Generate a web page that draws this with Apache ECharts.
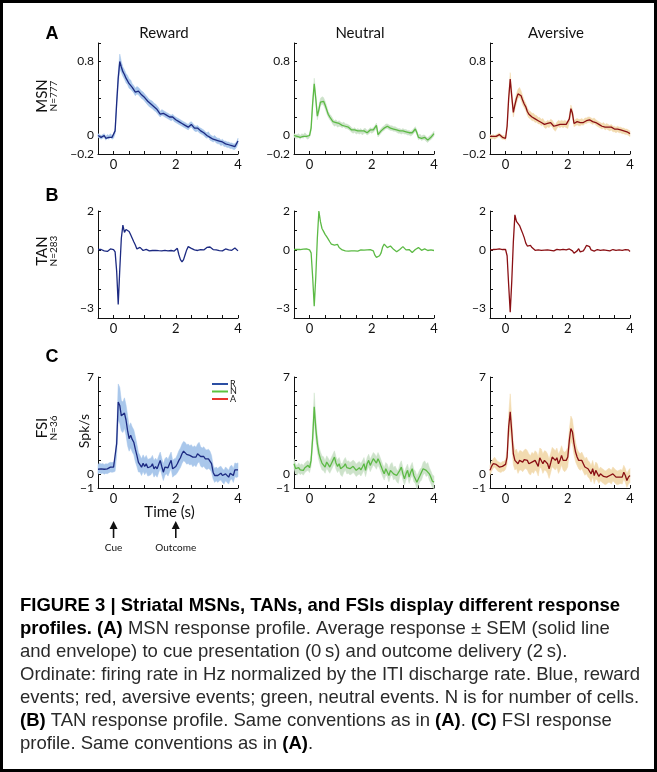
<!DOCTYPE html>
<html>
<head>
<meta charset="utf-8">
<script src="https://cdn.jsdelivr.net/npm/echarts@6/dist/echarts.min.js"></script>
<style>
html, body { margin: 0; padding: 0; background: #fff; }
#fig { width: 657px; height: 772px; }
</style>
</head>
<body>
<div id="fig"></div>
<script>
// time base (s), one sample every 50 ms
var time = [
  -0.5,-0.45,-0.4,-0.35,-0.3,-0.25,-0.2,-0.15,-0.1,-0.05,
  0,0.05,0.1,0.15,0.2,0.25,0.3,0.35,0.4,0.45,
  0.5,0.55,0.6,0.65,0.7,0.75,0.8,0.85,0.9,0.95,
  1,1.05,1.1,1.15,1.2,1.25,1.3,1.35,1.4,1.45,
  1.5,1.55,1.6,1.65,1.7,1.75,1.8,1.85,1.9,1.95,
  2,2.05,2.1,2.15,2.2,2.25,2.3,2.35,2.4,2.45,
  2.5,2.55,2.6,2.65,2.7,2.75,2.8,2.85,2.9,2.95,
  3,3.05,3.1,3.15,3.2,3.25,3.3,3.35,3.4,3.45,
  3.5,3.55,3.6,3.65,3.7,3.75,3.8,3.85,3.9,3.95,
  4
];

// MSN
var msnReward = [
  0.00,-0.01,-0.02,-0.01,0.00,-0.03,-0.01,-0.02,0.00,-0.02,
  -0.01,0.05,0.35,0.62,0.80,0.74,0.69,0.66,0.62,0.60,
  0.56,0.55,0.52,0.50,0.47,0.49,0.48,0.46,0.44,0.43,
  0.41,0.39,0.37,0.35,0.34,0.33,0.31,0.30,0.28,0.26,
  0.23,0.25,0.24,0.23,0.22,0.21,0.20,0.19,0.20,0.18,
  0.17,0.16,0.15,0.14,0.13,0.12,0.11,0.10,0.09,0.11,
  0.12,0.10,0.08,0.07,0.08,0.06,0.05,0.04,0.03,0.01,
  0.00,0.01,-0.02,-0.03,-0.04,-0.03,-0.05,-0.06,-0.06,-0.08,
  -0.07,-0.09,-0.09,-0.10,-0.10,-0.11,-0.11,-0.12,-0.12,-0.10,
  -0.06
];
var msnRewardSem = [
  0.02,0.02,0.02,0.02,0.02,0.02,0.02,0.02,0.02,0.02,
  0.02,0.03,0.05,0.07,0.08,0.06,0.05,0.05,0.05,0.05,
  0.05,0.05,0.04,0.04,0.04,0.04,0.04,0.04,0.04,0.04,
  0.04,0.04,0.04,0.04,0.04,0.04,0.04,0.04,0.04,0.04,
  0.03,0.03,0.03,0.03,0.03,0.03,0.03,0.03,0.03,0.03,
  0.03,0.03,0.03,0.03,0.03,0.03,0.03,0.03,0.03,0.03,
  0.03,0.03,0.03,0.03,0.03,0.03,0.03,0.03,0.03,0.03,
  0.03,0.03,0.03,0.03,0.03,0.03,0.03,0.03,0.03,0.03,
  0.03,0.03,0.03,0.03,0.03,0.03,0.03,0.03,0.03,0.03,
  0.03
];
var msnNeutral = [
  0.00,-0.01,-0.01,0.00,-0.02,0.00,-0.01,0.01,-0.01,-0.02,
  0.00,0.08,0.35,0.56,0.40,0.21,0.28,0.36,0.38,0.37,
  0.33,0.28,0.23,0.20,0.18,0.15,0.13,0.14,0.12,0.13,
  0.12,0.11,0.12,0.10,0.10,0.09,0.08,0.06,0.05,0.06,
  0.04,0.05,0.04,0.05,0.03,0.05,0.05,0.03,0.04,0.06,
  0.05,0.06,0.08,0.11,0.01,0.03,0.05,0.07,0.08,0.10,
  0.10,0.09,0.08,0.08,0.07,0.07,0.06,0.05,0.05,0.04,
  0.05,0.04,0.04,0.03,0.03,0.02,0.03,0.05,0.07,0.03,
  -0.02,-0.01,-0.03,-0.02,-0.02,-0.04,-0.05,-0.03,-0.02,0.00,
  0.02
];
var msnNeutralSem = [
  0.02,0.02,0.02,0.02,0.02,0.02,0.02,0.02,0.02,0.02,
  0.02,0.03,0.05,0.06,0.05,0.04,0.04,0.04,0.04,0.04,
  0.04,0.04,0.03,0.03,0.03,0.03,0.03,0.03,0.03,0.03,
  0.025,0.025,0.025,0.025,0.025,0.025,0.025,0.025,0.025,0.025,
  0.025,0.025,0.025,0.025,0.025,0.025,0.025,0.025,0.025,0.025,
  0.025,0.025,0.025,0.025,0.025,0.025,0.025,0.025,0.025,0.025,
  0.025,0.025,0.025,0.025,0.025,0.025,0.025,0.025,0.025,0.025,
  0.025,0.025,0.025,0.025,0.025,0.025,0.025,0.025,0.025,0.025,
  0.025,0.025,0.025,0.025,0.025,0.025,0.025,0.025,0.025,0.025,
  0.025
];
var msnAversive = [
  -0.01,-0.02,-0.01,-0.02,-0.01,0.00,0.01,-0.01,-0.02,-0.02,
  -0.03,0.10,0.40,0.61,0.42,0.25,0.33,0.40,0.45,0.47,
  0.43,0.38,0.34,0.31,0.26,0.23,0.22,0.20,0.20,0.18,
  0.18,0.16,0.16,0.14,0.15,0.12,0.11,0.13,0.12,0.14,
  0.13,0.10,0.08,0.11,0.13,0.12,0.13,0.12,0.13,0.12,
  0.11,0.18,0.29,0.24,0.13,0.14,0.15,0.14,0.14,0.15,
  0.14,0.16,0.16,0.17,0.17,0.16,0.15,0.16,0.14,0.13,
  0.12,0.11,0.10,0.11,0.09,0.10,0.09,0.08,0.09,0.07,
  0.07,0.06,0.07,0.06,0.06,0.05,0.05,0.04,0.04,0.03,
  0.02
];
var msnAversiveSem = [
  0.02,0.02,0.02,0.02,0.02,0.02,0.02,0.02,0.02,0.02,
  0.02,0.03,0.05,0.07,0.06,0.05,0.05,0.05,0.05,0.05,
  0.05,0.05,0.04,0.04,0.04,0.04,0.04,0.04,0.04,0.04,
  0.035,0.035,0.035,0.035,0.035,0.035,0.035,0.035,0.035,0.035,
  0.035,0.035,0.035,0.035,0.035,0.035,0.035,0.035,0.035,0.035,
  0.035,0.04,0.04,0.04,0.035,0.035,0.035,0.035,0.035,0.035,
  0.03,0.03,0.03,0.03,0.03,0.03,0.03,0.03,0.03,0.03,
  0.03,0.03,0.03,0.03,0.03,0.03,0.03,0.03,0.03,0.03,
  0.03,0.03,0.03,0.03,0.03,0.03,0.03,0.03,0.03,0.03,
  0.03
];

// TAN
var tanReward = [
  0.02,-0.03,0.02,-0.02,-0.05,0.03,-0.08,-0.02,0.05,-0.05,
  0.02,-0.10,-1.10,-2.80,-1.00,0.60,1.27,0.90,1.05,1.10,
  0.95,0.78,0.60,0.42,0.25,0.05,0.02,0.13,0.05,-0.03,
  0.00,0.03,-0.02,-0.05,0.00,-0.03,0.04,-0.02,0.03,-0.04,
  0.00,-0.05,0.02,-0.02,0.00,-0.05,0.01,-0.03,-0.02,-0.06,
  -0.03,0.08,-0.25,-0.50,-0.62,-0.50,-0.25,0.00,0.17,0.12,
  0.08,0.02,0.00,0.05,-0.03,0.00,0.02,-0.04,0.00,0.06,
  0.13,0.17,0.15,0.05,0.02,-0.03,0.00,0.03,-0.04,-0.02,
  -0.05,-0.01,0.05,-0.03,0.00,-0.05,-0.02,0.06,0.10,0.00,
  -0.05
];
var tanNeutral = [
  0.02,-0.02,0.03,-0.03,0.02,-0.04,0.04,-0.02,0.05,-0.03,
  0.00,-0.15,-1.40,-2.90,-1.40,0.60,2.00,1.45,1.10,0.95,
  0.80,0.68,0.55,0.42,0.30,0.25,0.25,0.28,0.28,0.12,
  0.03,0.00,-0.03,-0.05,-0.03,-0.06,-0.02,-0.05,-0.02,-0.05,
  -0.04,-0.06,-0.02,0.00,-0.03,-0.01,0.02,0.00,0.03,0.01,
  0.05,-0.05,-0.27,-0.38,-0.40,-0.30,-0.15,0.15,0.30,0.20,
  0.12,0.15,0.20,0.12,0.03,-0.05,-0.10,-0.05,0.02,0.10,
  0.17,0.10,0.00,-0.03,0.02,-0.05,-0.13,-0.05,0.02,0.05,
  0.12,0.05,-0.02,0.03,0.05,-0.02,-0.03,0.02,0.00,-0.03,
  -0.03
];
var tanAversive = [
  0.00,-0.03,0.02,-0.04,0.03,-0.03,0.05,-0.02,0.02,0.03,
  0.02,-0.30,-1.80,-3.20,-1.60,0.40,1.80,1.47,1.45,1.25,
  1.05,0.85,0.63,0.35,0.20,0.22,0.23,0.12,0.03,-0.02,
  -0.03,0.00,-0.04,-0.02,-0.04,-0.01,-0.03,0.00,-0.04,-0.02,
  -0.03,-0.05,-0.02,0.03,0.06,0.00,-0.03,0.03,0.06,0.00,
  -0.03,0.05,0.10,-0.05,-0.17,-0.10,-0.05,0.06,-0.10,-0.05,
  -0.05,0.08,0.23,0.28,0.17,0.00,-0.10,-0.06,-0.05,0.02,
  0.05,-0.02,-0.05,0.00,0.03,-0.02,-0.02,-0.05,-0.04,0.02,
  0.03,-0.02,-0.05,0.00,-0.01,-0.02,-0.02,0.02,0.04,0.00,
  -0.08
];

// FSI (spk/s)
var fsiReward = [
  0.35,0.45,0.38,0.42,0.35,0.40,0.38,0.45,0.50,0.48,
  0.50,0.60,2.20,5.20,4.95,4.20,4.10,4.40,3.90,3.15,
  2.55,2.80,2.50,2.30,1.80,1.35,0.85,0.75,0.50,0.79,
  0.55,0.75,0.46,0.50,0.55,0.75,0.38,0.55,0.38,0.70,
  0.99,0.55,0.14,0.50,0.63,0.46,0.75,0.99,0.38,0.50,
  0.55,0.75,0.99,1.18,1.47,1.66,1.59,1.42,1.47,1.35,
  1.42,1.23,1.35,1.23,1.47,1.59,1.27,1.18,1.27,1.10,
  1.03,1.10,0.99,0.75,0.14,-0.10,0.02,-0.10,0.02,0.07,
  -0.10,-0.22,0.02,-0.10,-0.22,0.07,0.14,-0.10,0.31,0.26,
  0.31
];
var fsiRewardSem = [
  0.35,0.35,0.35,0.35,0.35,0.35,0.35,0.35,0.35,0.35,
  0.35,0.4,0.8,1.3,1.3,1.1,1.1,1.1,1.1,1.1,
  0.9,0.9,0.9,0.9,0.9,0.8,0.7,0.6,0.6,0.6,
  0.6,0.6,0.6,0.6,0.6,0.6,0.6,0.6,0.6,0.6,
  0.6,0.6,0.6,0.6,0.6,0.6,0.6,0.6,0.6,0.6,
  0.6,0.65,0.7,0.7,0.7,0.7,0.7,0.7,0.7,0.7,
  0.7,0.7,0.7,0.7,0.7,0.7,0.7,0.7,0.7,0.7,
  0.7,0.7,0.65,0.6,0.5,0.5,0.5,0.5,0.5,0.5,
  0.5,0.5,0.5,0.5,0.5,0.5,0.5,0.5,0.5,0.5,
  0.5
];
var fsiNeutral = [
  0.75,0.39,0.27,0.46,0.31,0.39,0.27,0.46,0.56,0.63,
  0.46,0.99,2.60,4.86,3.30,2.20,1.50,1.10,0.80,0.75,
  0.51,0.87,0.70,0.51,0.75,0.99,1.23,0.80,0.56,0.75,
  0.39,0.27,0.56,0.75,0.46,0.51,0.39,0.46,0.56,0.46,
  0.27,0.39,0.46,0.31,0.51,0.75,0.27,0.75,0.99,0.63,
  0.87,1.11,0.99,0.80,1.11,0.87,0.56,0.27,0.02,0.39,
  0.27,-0.10,0.27,0.39,0.02,0.14,-0.10,-0.22,0.27,0.51,
  0.02,-0.34,0.02,0.27,-0.22,0.14,0.39,-0.10,-0.22,-0.58,
  -0.34,-0.10,0.02,0.39,0.51,0.27,0.39,0.02,-0.22,-0.51,
  -0.58
];
var fsiNeutralSem = [
  0.35,0.35,0.35,0.35,0.35,0.35,0.35,0.35,0.35,0.35,
  0.35,0.4,0.7,1.0,0.8,0.6,0.5,0.5,0.5,0.5,
  0.45,0.45,0.45,0.45,0.45,0.45,0.45,0.45,0.45,0.45,
  0.45,0.45,0.45,0.45,0.45,0.45,0.45,0.45,0.45,0.45,
  0.45,0.45,0.45,0.45,0.45,0.45,0.45,0.45,0.45,0.45,
  0.45,0.45,0.45,0.45,0.45,0.45,0.45,0.45,0.45,0.45,
  0.45,0.45,0.45,0.45,0.45,0.45,0.45,0.45,0.45,0.45,
  0.45,0.45,0.45,0.45,0.45,0.45,0.45,0.45,0.45,0.45,
  0.45,0.45,0.45,0.45,0.45,0.45,0.45,0.45,0.45,0.45,
  0.45
];
var fsiAversive = [
  0.27,0.56,0.75,0.87,0.70,0.56,0.51,0.46,0.56,0.56,
  0.70,1.23,3.41,4.49,3.04,1.47,0.99,1.11,0.75,0.99,
  0.99,0.87,1.04,1.11,0.99,0.75,0.63,0.87,0.75,0.99,
  0.87,0.56,1.18,1.11,0.75,0.99,0.94,0.75,0.39,0.80,
  1.23,1.11,0.99,1.18,0.75,0.99,1.35,0.99,0.87,0.99,
  1.23,2.44,3.29,3.04,2.20,1.59,1.23,0.99,0.87,0.99,
  0.75,0.51,0.63,0.39,0.27,0.02,0.39,-0.10,0.27,0.14,
  -0.17,0.02,-0.10,-0.17,-0.27,-0.22,-0.10,-0.10,-0.22,0.02,
  -0.10,-0.22,-0.27,-0.22,-0.17,-0.22,0.14,-0.10,-0.46,-0.22,
  -0.10
];
var fsiAversiveSem = [
  0.35,0.35,0.35,0.35,0.35,0.35,0.35,0.35,0.35,0.35,
  0.35,0.5,0.9,1.3,1.0,0.8,0.7,0.7,0.7,0.7,
  0.7,0.7,0.7,0.7,0.7,0.7,0.7,0.7,0.7,0.7,
  0.7,0.7,0.7,0.7,0.7,0.7,0.7,0.7,0.7,0.7,
  0.7,0.7,0.7,0.7,0.7,0.7,0.7,0.7,0.7,0.7,
  0.7,0.8,0.9,0.9,0.8,0.7,0.6,0.6,0.6,0.6,
  0.6,0.6,0.6,0.6,0.6,0.6,0.6,0.6,0.6,0.6,
  0.5,0.5,0.5,0.5,0.5,0.5,0.5,0.5,0.5,0.5,
  0.5,0.5,0.5,0.5,0.5,0.5,0.5,0.5,0.5,0.5,
  0.5
];

var colNames = ["Reward", "Neutral", "Aversive"];
var rowLetters = ["A", "B", "C"];
var rowNames = ["MSN", "TAN", "FSI"];
var rowCounts = ["N=777", "N=283", "N=36"];
var legendNames = ["R", "N", "A"];

var xRange = [-0.5, 4];
var xLabelValues = [0, 2, 4];
var xTickValues = [0, 0.5, 1, 1.5, 2, 2.5, 3, 3.5, 4];
var yRanges = [[-0.2, 1.0], [-3.5, 2], [-1, 7]];
var yLabelValues = [[-0.2, 0, 0.8], [-3, 0, 2], [-1, 0, 7]];
var yTickValues = [
  [-0.2, 0, 0.2, 0.4, 0.6, 0.8, 1.0],
  [-3, -2, -1, 0, 1, 2],
  [-1, 0, 1, 2, 3, 4, 5, 6, 7]
];

var captionLines = [
  "{b|FIGURE 3 | Striatal MSNs, TANs, and FSIs display different response}",
  "{b|profiles. (A)} MSN response profile. Average response \u00b1 SEM (solid line",
  "and envelope) to cue presentation (0\u2009s) and outcome delivery (2\u2009s).",
  "Ordinate: firing rate in Hz normalized by the ITI discharge rate. Blue, reward",
  "events; red, aversive events; green, neutral events. N is for number of cells.",
  "{b|(B)} TAN response profile. Same conventions as in {b|(A)}. {b|(C)} FSI response",
  "profile. Same conventions as in {b|(A)}."
];

// layout
var colLeft = [98, 294, 490];
var plotWidth = 140;
var rowTop = [43, 211, 377];
var rowHeight = [111, 107, 111];
var lineColors = ["#1c2a82", "#5cba45", "#8a1014"];
var bandColors = ["#a9c7eb", "#cde2ca", "#f2dbb0"];
var legendColors = ["#2b4ea3", "#5cc43f", "#e8352b"];
var font = "Lato, 'Open Sans', sans-serif";

var means = [
  [msnReward, msnNeutral, msnAversive],
  [tanReward, tanNeutral, tanAversive],
  [fsiReward, fsiNeutral, fsiAversive]
];
var sems = [
  [msnRewardSem, msnNeutralSem, msnAversiveSem],
  [null, null, null],
  [fsiRewardSem, fsiNeutralSem, fsiAversiveSem]
];

function tickText(v) {
  return v < 0 ? "\u2212" + (-v) : "" + v;
}
function xPix(c, t) {
  return colLeft[c] + (t - xRange[0]) / (xRange[1] - xRange[0]) * plotWidth;
}

// envelope: one polygon from the whole [t, low, high] list, drawn on the first item
function bandRenderer(rows, color) {
  return function (params, api) {
    if (params.dataIndex !== 0) return null;
    var pts = [], k;
    for (k = 0; k < rows.length; k++) pts.push(api.coord([rows[k][0], rows[k][2]]));
    for (k = rows.length - 1; k >= 0; k--) pts.push(api.coord([rows[k][0], rows[k][1]]));
    return {
      type: "polygon", shape: { points: pts }, silent: true,
      style: { fill: color, stroke: color, lineWidth: 0.5 }
    };
  };
}

var grids = [], xAxes = [], yAxes = [], series = [];
for (var r = 0; r < 3; r++) {
  for (var c = 0; c < 3; c++) {
    var idx = r * 3 + c;
    grids.push({
      left: colLeft[c], top: rowTop[r], width: plotWidth, height: rowHeight[r],
      outerBoundsMode: "none"
    });
    xAxes.push({
      type: "value", gridIndex: idx, min: xRange[0], max: xRange[1],
      axisLine: { show: true, onZero: false, lineStyle: { color: "#111", width: 1 } },
      axisTick: { show: true, inside: true, length: 3, customValues: xTickValues, lineStyle: { color: "#111" } },
      axisLabel: { customValues: xLabelValues, formatter: tickText, margin: 4, fontSize: 13, color: "#111", fontFamily: font },
      splitLine: { show: false }
    });
    yAxes.push({
      type: "value", gridIndex: idx, min: yRanges[r][0], max: yRanges[r][1],
      axisLine: { show: true, onZero: false, lineStyle: { color: "#111", width: 1 } },
      axisTick: { show: true, inside: true, length: 3, customValues: yTickValues[r], lineStyle: { color: "#111" } },
      axisLabel: { customValues: yLabelValues[r], formatter: tickText, margin: 4, fontSize: 12, color: "#111", fontFamily: font },
      splitLine: { show: false }
    });
    var m = means[r][c], s = sems[r][c];
    if (s) {
      var rows = time.map(function (t, k) { return [t, m[k] - s[k], m[k] + s[k]]; });
      series.push({
        type: "custom", xAxisIndex: idx, yAxisIndex: idx, silent: true, z: 1,
        data: rows,
        encode: { x: 0, y: [1, 2] },
        renderItem: bandRenderer(rows, bandColors[c])
      });
    }
    series.push({
      type: "line", xAxisIndex: idx, yAxisIndex: idx,
      data: time.map(function (t, k) { return [t, m[k]]; }),
      showSymbol: false, silent: true,
      lineStyle: { color: lineColors[c], width: 1.3 }, z: 3
    });
  }
}

var graphics = [];
function addText(x, y, text, size, opts) {
  opts = opts || {};
  graphics.push({
    type: "text", x: x, y: y, rotation: opts.rotation || 0, silent: true,
    style: {
      text: text, fill: opts.color || "#111", align: opts.align || "center",
      verticalAlign: "middle", fontSize: size, fontFamily: opts.family || font,
      fontWeight: opts.weight || "normal", rich: opts.rich
    }
  });
}

// column titles, panel letters and row labels
for (var c = 0; c < 3; c++) addText(colLeft[c] + 66, 33, colNames[c], 15);
var letterY = [34, 196, 357];
var rowMid = [96, 251, 428];
for (var r = 0; r < 3; r++) {
  addText(52, letterY[r], rowLetters[r], 18, { weight: "bold", color: "#000", family: "'Liberation Sans', Arial, sans-serif" });
  addText(42, rowMid[r], rowNames[r], 15, { rotation: Math.PI / 2 });
  addText(54, rowMid[r], rowCounts[r], 10, { rotation: Math.PI / 2 });
}
addText(84, 431, "Spk/s", 14, { rotation: Math.PI / 2 });
addText(xPix(0, 1.8), 512, "Time (s)", 15);

// cue / outcome arrows
var arrowTimes = [0, 2];
var arrowNames = ["Cue", "Outcome"];
for (var a = 0; a < 2; a++) {
  var ax = xPix(0, arrowTimes[a]);
  graphics.push({ type: "polygon", silent: true, shape: { points: [[ax, 521], [ax - 4, 529], [ax + 4, 529]] }, style: { fill: "#111" } });
  graphics.push({ type: "line", silent: true, shape: { x1: ax, y1: 527, x2: ax, y2: 538 }, style: { stroke: "#111", lineWidth: 1.6 } });
  addText(ax, 548, arrowNames[a], 10);
}

// legend in the FSI reward panel
for (var g = 0; g < 3; g++) {
  var ly = 384 + g * 7.5;
  graphics.push({ type: "line", silent: true, shape: { x1: 212, y1: ly, x2: 228, y2: ly }, style: { stroke: legendColors[g], lineWidth: 2 } });
  addText(230, ly, legendNames[g], 9, { align: "left" });
}

// caption
var capFont = "'Liberation Sans', Arial, sans-serif";
for (var i = 0; i < captionLines.length; i++) {
  addText(20, 606 + i * 23, captionLines[i], 18.5, {
    align: "left", color: "#2a2a2a", family: capFont,
    rich: { b: { fontWeight: "bold", fontSize: 18.5, fontFamily: capFont, fill: "#000" } }
  });
}

// frame
graphics.push({ type: "rect", silent: true, shape: { x: 1.5, y: 1.5, width: 654, height: 769 }, style: { fill: "none", stroke: "#000", lineWidth: 3 } });

var chart = echarts.init(document.getElementById("fig"), null, { renderer: "canvas" });
chart.setOption({
  backgroundColor: "#fff",
  animation: false,
  grid: grids,
  xAxis: xAxes,
  yAxis: yAxes,
  series: series,
  graphic: graphics
});
</script>
</body>
</html>
